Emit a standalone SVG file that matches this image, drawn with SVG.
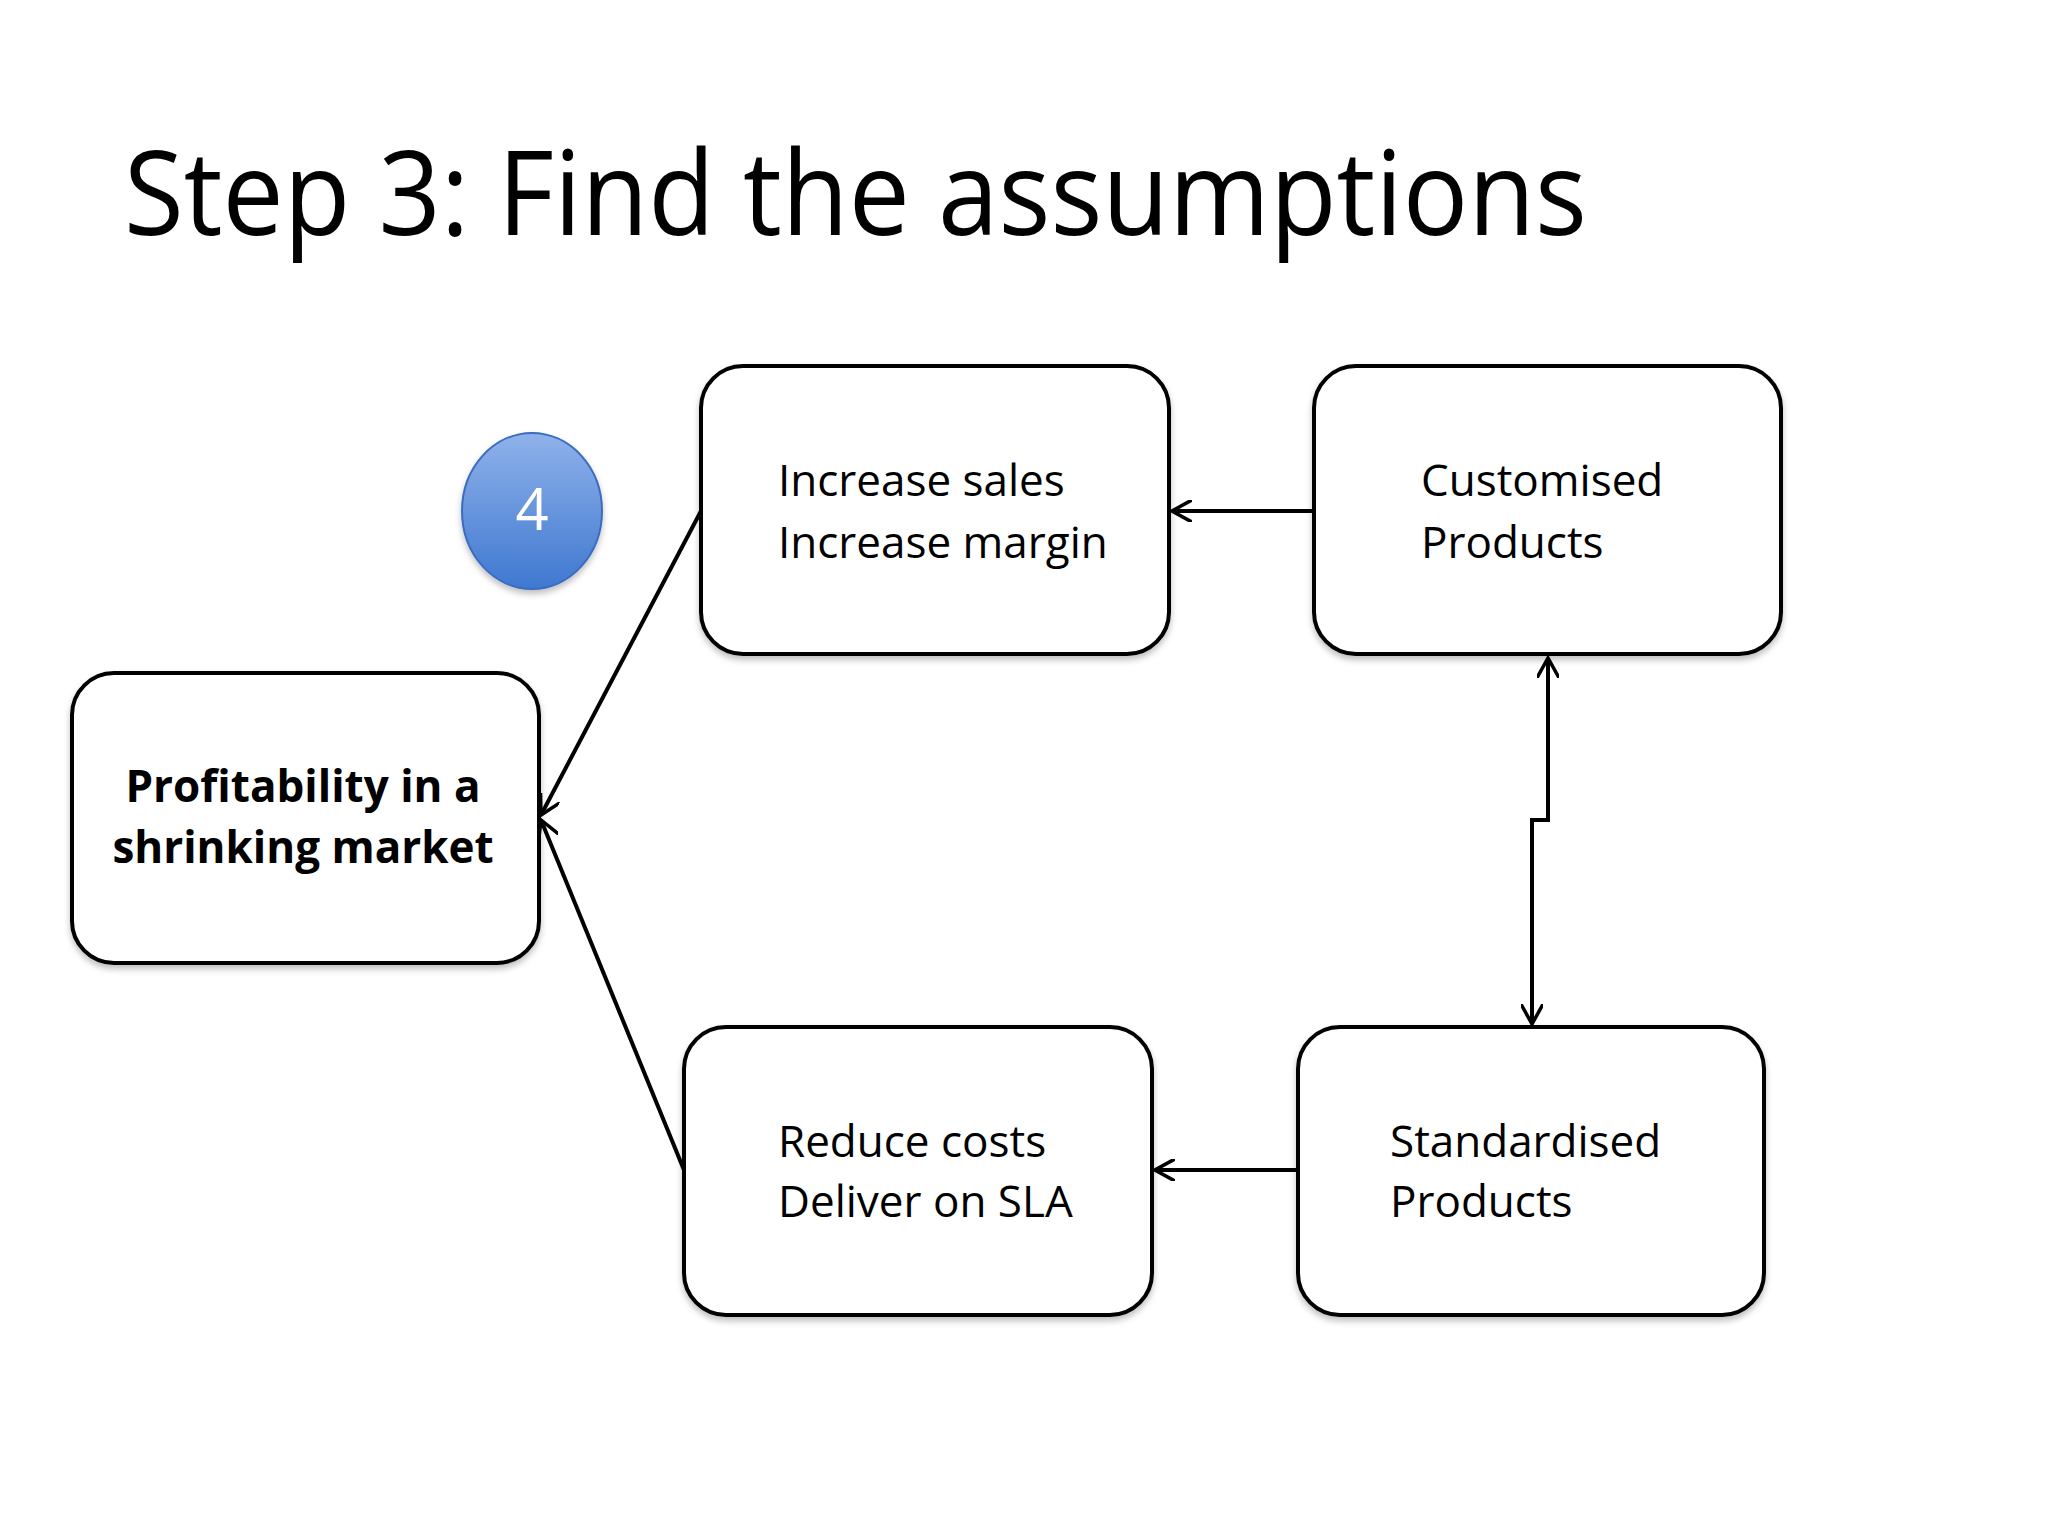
<svg xmlns="http://www.w3.org/2000/svg" width="2048" height="1536" viewBox="0 0 2048 1536">
<style>
.box{fill:#fff;stroke:#000;stroke-width:4}
.t{font-family:"Open Sans","Liberation Sans",sans-serif;font-size:44px;fill:#000}
.c{fill:none;stroke:#000;stroke-width:4}
</style>
<defs>
<marker id="a" viewBox="0 0 10 10" refX="9" refY="5" markerWidth="7" markerHeight="7" orient="auto-start-reverse" markerUnits="userSpaceOnUse" style="overflow:visible">
<path d="M0,0 L9,5 L0,10" fill="none" stroke="#000" stroke-width="1.6"/>
</marker>
<marker id="b" viewBox="0 0 10 10" refX="9" refY="5" markerWidth="22" markerHeight="22" orient="auto-start-reverse" markerUnits="userSpaceOnUse">
<path d="M0,0 L9,5 L0,10" fill="none" stroke="#000" stroke-width="1.6"/>
</marker>
<filter id="s" x="-10%" y="-10%" width="120%" height="130%"><feDropShadow dx="0" dy="4" stdDeviation="3" flood-color="#000" flood-opacity="0.25"/></filter>
<linearGradient id="g" x1="0" y1="0" x2="0" y2="1"><stop offset="0" stop-color="#8fb2ea"/><stop offset="1" stop-color="#3f78d0"/></linearGradient>
</defs>
<rect width="2048" height="1536" fill="#fff"/>
<text x="124" y="235" font-family="Open Sans,Liberation Sans,sans-serif" font-size="118" textLength="1463" lengthAdjust="spacingAndGlyphs">Step 3: Find the assumptions</text>
<g id="connectors">
<line class="c" x1="1314" y1="511" x2="1172" y2="511" marker-end="url(#b)"/>
<line class="c" x1="1298" y1="1170" x2="1155" y2="1170" marker-end="url(#b)"/>
<line class="c" x1="701" y1="511" x2="541" y2="815" marker-end="url(#b)"/>
<line class="c" x1="684" y1="1170" x2="541" y2="820" marker-end="url(#b)"/>
<polyline class="c" points="1548,658 1548,820 1532,820 1532,1024" marker-start="url(#b)" marker-end="url(#b)"/>
</g>
<g id="badge"><ellipse cx="532" cy="511" rx="70" ry="78" fill="url(#g)" stroke="#3a6cc0" stroke-width="2" filter="url(#s)"/>
<text x="532" y="530" text-anchor="middle" font-family="Open Sans,Liberation Sans,sans-serif" font-size="58" fill="#fff">4</text></g>
<g id="profit"><rect class="box" x="72" y="673" width="467" height="290" rx="42" filter="url(#s)"/>
<text class="t" x="303" y="802" text-anchor="middle" font-weight="bold">Profitability in a</text>
<text class="t" x="303" y="863" text-anchor="middle" font-weight="bold">shrinking market</text></g>
<g id="increase"><rect class="box" x="701" y="366" width="468" height="288" rx="42" filter="url(#s)"/>
<text class="t" x="778" y="496">Increase sales</text><text class="t" x="778" y="558">Increase margin</text></g>
<g id="custom"><rect class="box" x="1314" y="366" width="467" height="288" rx="42" filter="url(#s)"/>
<text class="t" x="1421" y="496">Customised</text><text class="t" x="1421" y="558">Products</text></g>
<g id="reduce"><rect class="box" x="684" y="1027" width="468" height="288" rx="42" filter="url(#s)"/>
<text class="t" x="778" y="1157">Reduce costs</text><text class="t" x="778" y="1217">Deliver on SLA</text></g>
<g id="standard"><rect class="box" x="1298" y="1027" width="466" height="288" rx="42" filter="url(#s)"/>
<text class="t" x="1390" y="1157">Standardised</text><text class="t" x="1390" y="1217">Products</text></g>
</svg>
